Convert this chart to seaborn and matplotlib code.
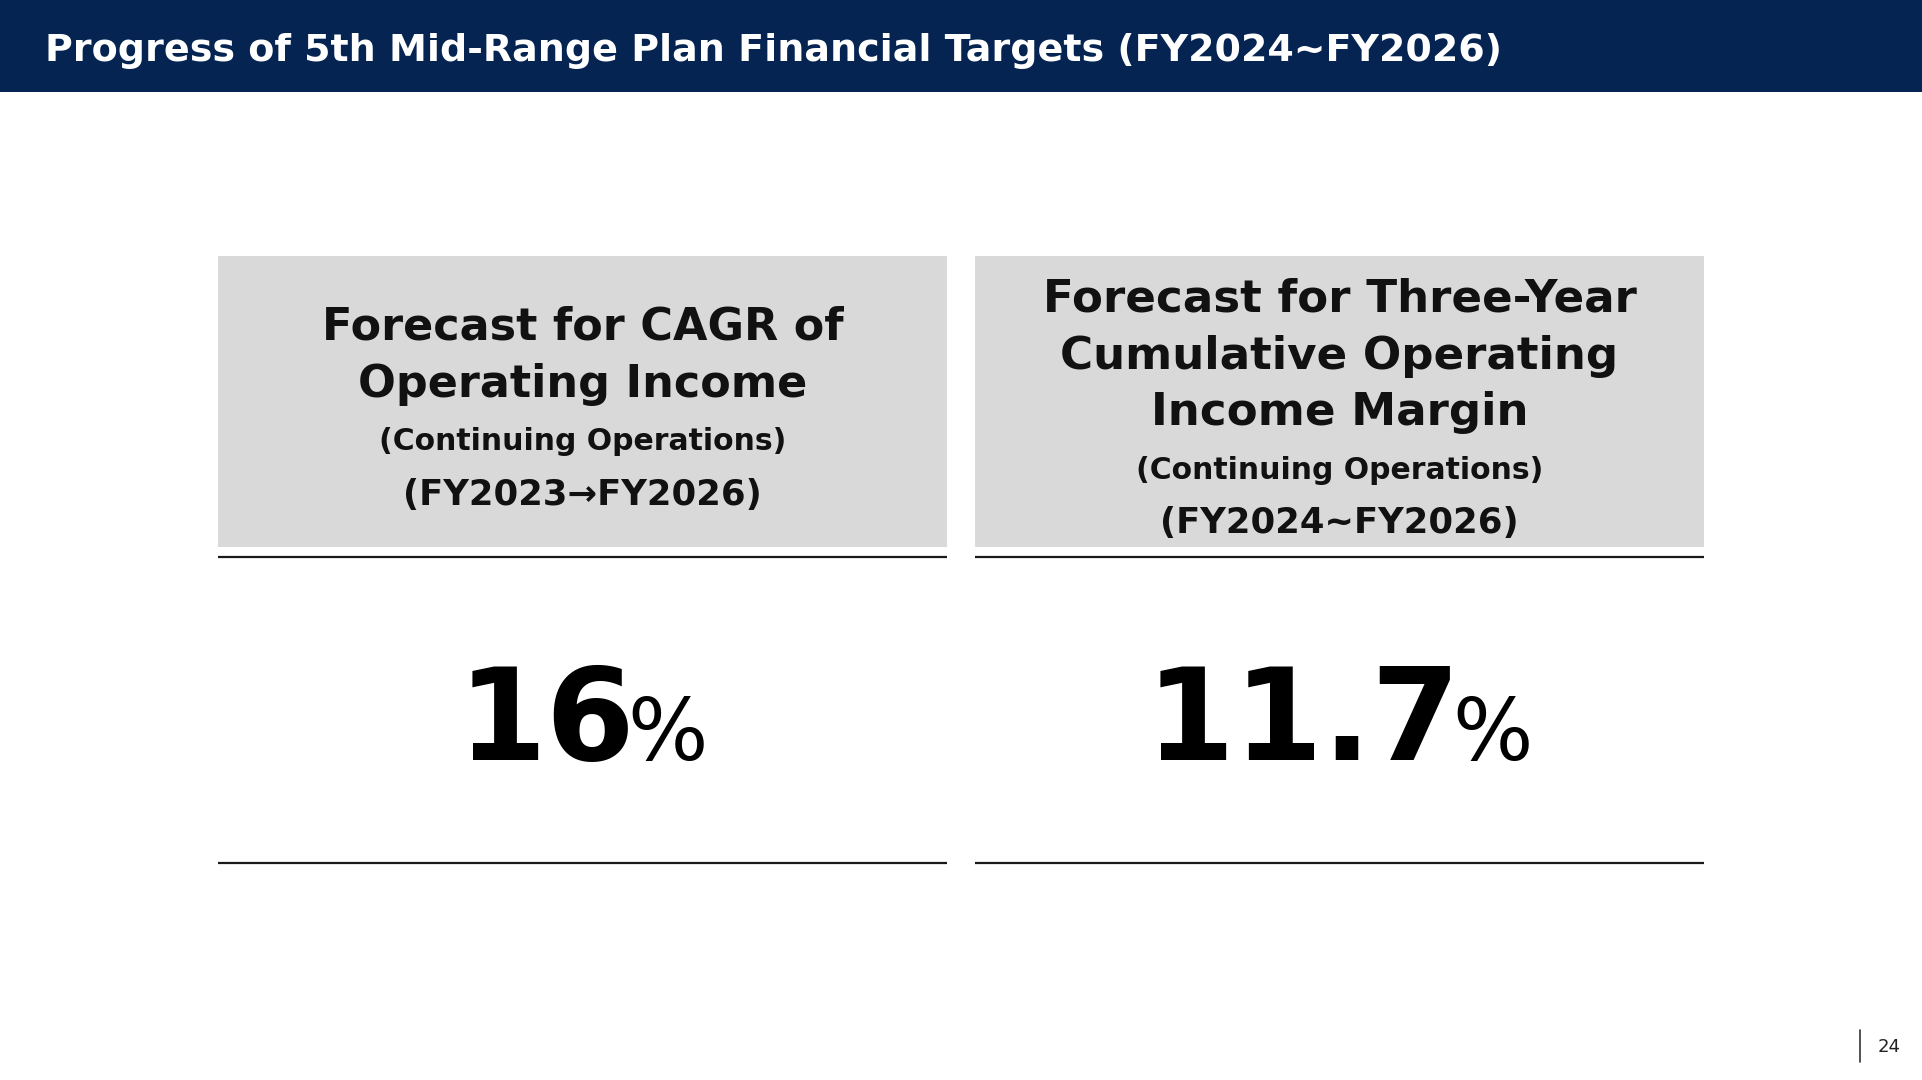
import matplotlib
matplotlib.use("Agg")
import matplotlib.pyplot as plt
from matplotlib.patches import Rectangle
import seaborn as sns

# --- slide content ---
page_title = "Progress of 5th Mid-Range Plan Financial Targets (FY2024~FY2026)"
panel_headings = [
    ["Forecast for CAGR of", "Operating Income"],
    ["Forecast for Three-Year", "Cumulative Operating", "Income Margin"],
]
panel_notes = ["(Continuing Operations)", "(Continuing Operations)"]
panel_periods = ["(FY2023\u2192FY2026)", "(FY2024~FY2026)"]
target_values = ["16", "11.7"]
target_unit = "%"
page_number = "24"

W, H = 1922, 1080
NAVY = "#052452"
GRAY = "#d9d9d9"

sns.set_theme(style="white")
plt.rcParams["font.family"] = ["DejaVu Sans"]

fig = plt.figure(figsize=(W / 100, H / 100), dpi=100)
ax = fig.add_axes([0, 0, 1, 1])
ax.set_xlim(0, W)
ax.set_ylim(H, 0)
ax.axis("off")

# header band
ax.add_patch(Rectangle((0, 0), W, 92, color=NAVY, lw=0))
ax.text(45, 61, page_title, color="white", fontsize=27.4, fontweight="bold",
        va="baseline", ha="left")

# panel geometry
lefts = [218, 975]
pw = 729
box_top, box_bot = 256, 547
rule_top, rule_bot = 557, 863

heading_base = {2: [340, 397], 3: [311, 369, 425]}
note_base = {2: 450, 3: 479}
period_base = {2: 505, 3: 533}
heading_size = {2: 32, 3: 32.5}

fig.canvas.draw()
renderer = fig.canvas.get_renderer()

for i, x0 in enumerate(lefts):
    cx = x0 + pw / 2
    ax.add_patch(Rectangle((x0, box_top), pw, box_bot - box_top, color=GRAY, lw=0))
    ax.plot([x0, x0 + pw], [rule_top, rule_top], color="#1a1a1a", lw=1.6,
            solid_capstyle="butt")
    ax.plot([x0, x0 + pw], [rule_bot, rule_bot], color="#1a1a1a", lw=1.6,
            solid_capstyle="butt")

    lines = panel_headings[i]
    n = len(lines)
    for line, yb in zip(lines, heading_base[n]):
        ax.text(cx, yb, line, fontsize=heading_size[n], fontweight="bold",
                color="#111111", ha="center", va="baseline")
    ax.text(cx, note_base[n], panel_notes[i], fontsize=21.5, fontweight="bold",
            color="#111111", ha="center", va="baseline")
    ax.text(cx, period_base[n], panel_periods[i], fontsize=25.5, fontweight="bold",
            color="#111111", ha="center", va="baseline")

    # big number followed by a smaller unit, centred as one group
    num = ax.text(0, 0, target_values[i], fontsize=92, fontweight="bold",
                  color="black", ha="left", va="baseline")
    unit = ax.text(0, 0, target_unit, fontsize=61, color="black",
                   ha="left", va="baseline")
    wn = num.get_window_extent(renderer).width
    wu = unit.get_window_extent(renderer).width
    gap = -8
    start = cx - (wn + wu + gap) / 2
    num.set_position((start, 760))
    unit.set_position((start + wn + gap, 760))

# page number
ax.plot([1860, 1860], [1030, 1062], color="#333333", lw=1.2)
ax.text(1878, 1052, page_number, fontsize=13, color="#222222",
        ha="left", va="baseline")

fig.savefig("out.png", dpi=100)
